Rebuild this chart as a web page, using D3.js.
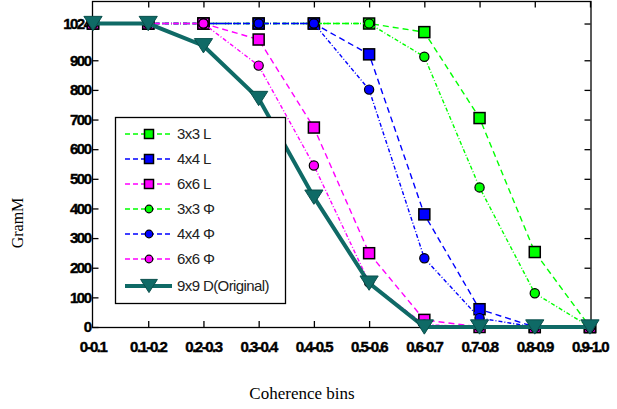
<!DOCTYPE html>
<html><head><meta charset="utf-8">
<script src="https://cdn.jsdelivr.net/npm/d3@7/dist/d3.min.js"></script>
<style>body{margin:0;background:#fff}svg{display:block}</style>
</head><body>
<svg id="c" width="617" height="409"></svg>
<script>
const categories = ["0-0.1","0.1-0.2","0.2-0.3","0.3-0.4","0.4-0.5","0.5-0.6","0.6-0.7","0.7-0.8","0.8-0.9","0.9-1.0"];
const tickLabels = ["0-0.1","0.1-0.2","0.2-0.3","0.3-0.4","0.4-0.5","0.5-0.6","0.6-0.7","0.7-0.8","0.8-0.9","0.9-1.0"];
const yTicks = [0,100,200,300,400,500,600,700,800,900,1024];
const s3L = [1024,1024,1024,1024,1024,1024,995,705,253,0];
const s4L = [1024,1024,1024,1024,1024,920,380,60,0,0];
const s6L = [1024,1024,1024,970,673,249,24,0,0,0];
const s3P = [1024,1024,1024,1024,1024,1024,912,471,114,0];
const s4P = [1024,1024,1024,1024,1024,801,232,30,0,0];
const s6P = [1024,1024,1024,882,545,150,8,0,0,0];
const s9D = [1024,1024,949,771,438,148,0,0,0,0];

const series = [
  {name:"3x3 L", values:s3L, color:"#00ff00", marker:"square", dash:"6,4"},
  {name:"4x4 L", values:s4L, color:"#0000ff", marker:"square", dash:"6,4"},
  {name:"6x6 L", values:s6L, color:"#ff00ff", marker:"square", dash:"6,4"},
  {name:"3x3 \u03A6", values:s3P, color:"#00ff00", marker:"circle", dash:"4,2,1,2"},
  {name:"4x4 \u03A6", values:s4P, color:"#0000ff", marker:"circle", dash:"4,2,1,2"},
  {name:"6x6 \u03A6", values:s6P, color:"#ff00ff", marker:"circle", dash:"4,2,1,2"},
  {name:"9x9 D(Original)", values:s9D, color:"#0f6a66", marker:"triangle", dash:null}
];

const svg = d3.select("#c");
const L = 93, R = 590, T = 1, B = 327;
const x = d3.scalePoint().domain(categories).range([L, R]).padding(0);
const y = d3.scaleLinear().domain([0, 1100]).range([B, T]);

// frame
svg.append("rect").attr("x", 92.5).attr("y", 1.5).attr("width", 591-92.5).attr("height", B-1)
  .attr("fill","none").attr("stroke","#000").attr("stroke-width",1.3);

const tickFont = "Liberation Sans, Arial, sans-serif";
// y axis (ticks inside)
const yAxis = d3.axisLeft(y).tickValues(yTicks).tickSize(-6).tickPadding(9).tickFormat(d3.format("d"));
const gy = svg.append("g").attr("transform",`translate(92.5,0)`).call(yAxis);
gy.select(".domain").remove();
gy.selectAll("line").attr("stroke","#000").attr("stroke-width",1.3);
gy.selectAll("text").attr("font-family",tickFont).attr("font-weight","bold").attr("font-size",15)
  .attr("letter-spacing","-1.5px").attr("fill","#000").attr("x",-2).attr("stroke","#000").attr("stroke-width",0.4);
const yAxisR = d3.axisRight(y).tickValues(yTicks.slice(1)).tickSize(-6).tickFormat("");
const gyr = svg.append("g").attr("transform",`translate(590.5,0)`).call(yAxisR);
gyr.select(".domain").remove();
gyr.selectAll("line").attr("stroke","#000").attr("stroke-width",1.3);

// x axis
const xAxis = d3.axisBottom(x).tickValues(categories.slice(1)).tickSize(-6).tickFormat("");
const gx = svg.append("g").attr("transform",`translate(0,${B})`).call(xAxis);
gx.select(".domain").remove();
gx.selectAll("line").attr("stroke","#000").attr("stroke-width",1.3);
const xAxisT = d3.axisTop(x).tickValues(categories.slice(1)).tickSize(-6).tickFormat("");
const gxt = svg.append("g").attr("transform",`translate(0,1.5)`).call(xAxisT);
gxt.select(".domain").remove();
gxt.selectAll("line").attr("stroke","#000").attr("stroke-width",1.3);
svg.append("g").selectAll("text").data(categories).join("text")
  .attr("x", d => x(d)).attr("y", 352).attr("text-anchor","middle")
  .attr("font-family",tickFont).attr("font-weight","bold").attr("font-size",15)
  .attr("letter-spacing","-1.5px").attr("fill","#000").attr("stroke","#000").attr("stroke-width",0.4)
  .text((d,i) => tickLabels[i]);

// axis titles
svg.append("text").attr("x",302).attr("y",399).attr("text-anchor","middle")
  .attr("font-family","Liberation Serif, Times New Roman, serif").attr("font-size",17).text("Coherence bins");
svg.append("text").attr("transform","translate(23,223) rotate(-90)").attr("text-anchor","middle")
  .attr("font-family","Liberation Serif, Times New Roman, serif").attr("font-size",16).text("GramM");

function drawMarker(g, type, cx, cy, color, size) {
  if (type === "square") {
    g.append("rect").attr("x",cx-size/2).attr("y",cy-size/2).attr("width",size).attr("height",size)
      .attr("fill",color).attr("stroke","#000").attr("stroke-width",1.5);
  } else if (type === "circle") {
    g.append("circle").attr("cx",cx).attr("cy",cy).attr("r",size*0.42)
      .attr("fill",color).attr("stroke","#000").attr("stroke-width",1.2);
  } else {
    const w = size*1.4, h = size*1.1;
    g.append("path").attr("d",`M${cx-w/2},${cy-h/2}L${cx+w/2},${cy-h/2}L${cx},${cy+h/2}Z`)
      .attr("fill",color).attr("stroke","#0a4f4c").attr("stroke-width",1);
  }
}

const line = d3.line().x((d,i) => x(categories[i])).y(d => y(d));
const plot = svg.append("g");
series.forEach(s => {
  plot.append("path").attr("d", line(s.values)).attr("fill","none")
    .attr("stroke", s.color).attr("stroke-width", s.marker === "triangle" ? 4 : 1.4)
    .attr("stroke-dasharray", s.dash);
  s.values.forEach((v,i) => drawMarker(plot, s.marker, x(categories[i]), y(v), s.color, s.marker==="square"?11:(s.marker==="circle"?11:13)));
});

// legend
const lg = svg.append("g");
lg.append("rect").attr("x",115.5).attr("y",117.5).attr("width",170).attr("height",186)
  .attr("fill","#fff").attr("stroke","#000").attr("stroke-width",1.3);
series.forEach((s,i) => {
  const cy = 134 + i*25 + (i===6 ? 2 : 0);
  lg.append("line").attr("x1",125).attr("x2",172).attr("y1",cy).attr("y2",cy)
    .attr("stroke",s.color).attr("stroke-width", s.marker==="triangle"?4:1.3)
    .attr("stroke-dasharray", s.marker==="triangle"?null:"5,3");
  drawMarker(lg, s.marker, 149, cy, s.color, s.marker==="triangle"?12:9);
  lg.append("text").attr("x",177).attr("y",cy+5).attr("font-family",tickFont).attr("font-size",15)
    .attr("letter-spacing","-0.6px").attr("fill","#222").text(s.name);
});
</script>
</body></html>
